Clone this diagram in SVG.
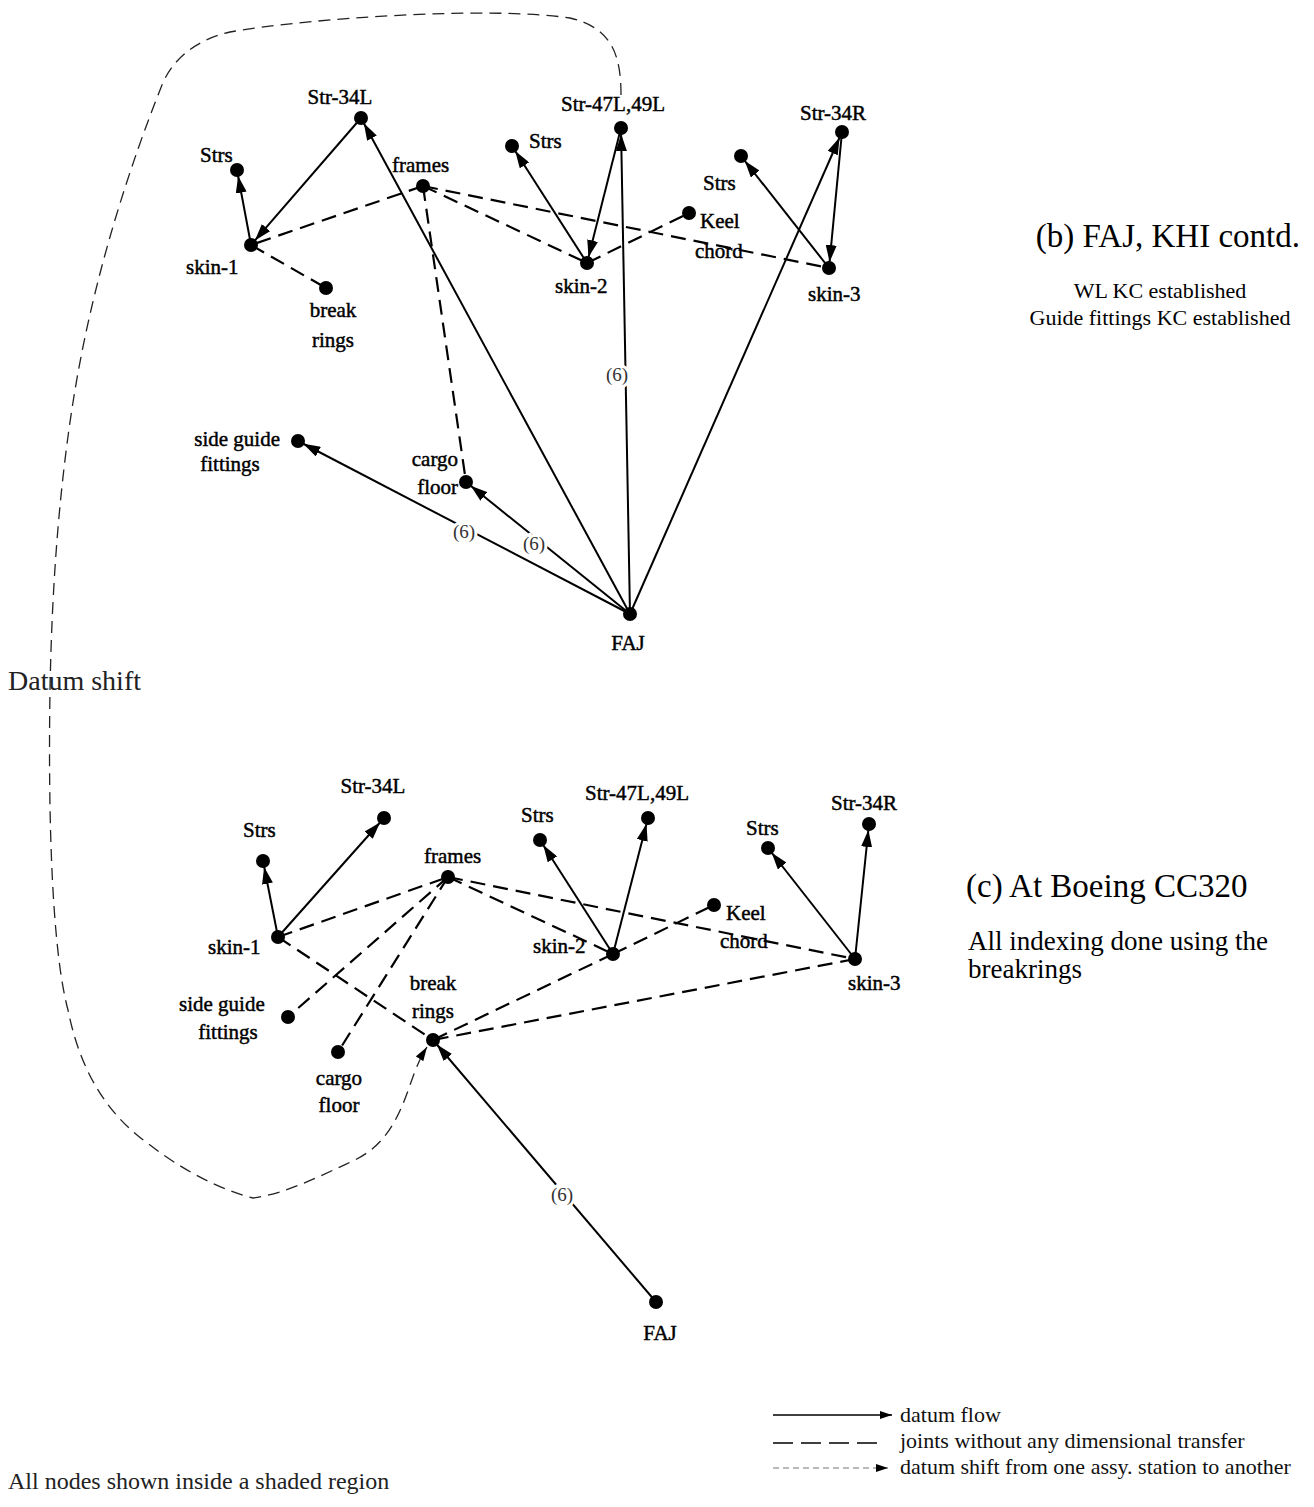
<svg xmlns="http://www.w3.org/2000/svg" width="1314" height="1507" viewBox="0 0 1314 1507">
<defs>
<style>
text{font-family:"Liberation Serif","Times New Roman",serif;fill:#000}
.lb{font-size:21px;stroke:#000;stroke-width:0.45px}
.six{font-size:19px;fill:#333;paint-order:stroke;stroke:#fff;stroke-width:6px}
.sa{stroke:#000;stroke-width:2;fill:none;marker-end:url(#ah)}
.dsh{stroke:#000;stroke-width:2.2;fill:none;stroke-dasharray:15 8}
.shift{stroke:#222;stroke-width:1.3;fill:none;stroke-dasharray:12 7}
.nd{fill:#000}
.ttl{font-size:33px}
.sub{font-size:22px}
.sub2{font-size:27px}
.leg{font-size:22px;fill:#111}
</style>
<marker id="ah" viewBox="0 0 17 11" refX="23" refY="5.5" markerWidth="17" markerHeight="11" markerUnits="userSpaceOnUse" orient="auto"><path d="M0,0 L17,5.5 L0,11 z" fill="#000"/></marker>
<marker id="ahs" viewBox="0 0 14 9" refX="14" refY="4.5" markerWidth="14" markerHeight="9" markerUnits="userSpaceOnUse" orient="auto"><path d="M0,0 L14,4.5 L0,9 z" fill="#000"/></marker>
<marker id="ahl" viewBox="0 0 12 8" refX="12" refY="4" markerWidth="12" markerHeight="8" markerUnits="userSpaceOnUse" orient="auto"><path d="M0,0 L12,4 L0,8 z" fill="#000"/></marker>
</defs>
<rect width="1314" height="1507" fill="#fff"/>

<g id="connectors">
<path class="shift" marker-end="url(#ahs)" d="M621,95 C621,55 612,28 570,18 C490,6 310,18 230,32 C195,40 172,60 162,85 C132,160 95,270 75,390 C60,480 52,580 50,690 C48,820 52,950 68,1010 C78,1060 100,1110 150,1145 C180,1168 215,1188 253,1198 C285,1194 320,1176 355,1160 C385,1145 398,1120 410,1085 C416,1068 420,1058 427,1047"/>

<line class="sa" x1="251" y1="245" x2="237" y2="170"/>
<line class="sa" x1="361" y1="118" x2="251" y2="245"/>
<line class="sa" x1="630" y1="614" x2="361" y2="118"/>
<line class="dsh" x1="423" y1="186" x2="251" y2="245"/>
<line class="dsh" x1="423" y1="186" x2="587" y2="263"/>
<line class="dsh" x1="423" y1="186" x2="829" y2="268"/>
<line class="dsh" x1="423" y1="186" x2="466" y2="482"/>
<line class="dsh" x1="251" y1="245" x2="326" y2="288"/>
<line class="sa" x1="587" y1="263" x2="512" y2="146"/>
<line class="sa" x1="621" y1="128" x2="587" y2="263"/>
<line class="sa" x1="630" y1="614" x2="621" y2="128"/>
<line class="dsh" x1="587" y1="263" x2="689" y2="213"/>
<line class="sa" x1="630" y1="614" x2="842" y2="132"/>
<line class="sa" x1="842" y1="132" x2="829" y2="268"/>
<line class="sa" x1="829" y1="268" x2="741" y2="156"/>
<line class="sa" x1="630" y1="614" x2="298" y2="441"/>
<line class="sa" x1="630" y1="614" x2="466" y2="482"/>

<line class="sa" x1="278" y1="937" x2="263" y2="861"/>
<line class="sa" x1="278" y1="937" x2="384" y2="818"/>
<line class="dsh" x1="278" y1="937" x2="448" y2="877"/>
<line class="dsh" x1="278" y1="937" x2="433" y2="1040"/>
<line class="dsh" x1="448" y1="877" x2="288" y2="1017"/>
<line class="dsh" x1="448" y1="877" x2="338" y2="1052"/>
<line class="dsh" x1="448" y1="877" x2="613" y2="954"/>
<line class="dsh" x1="448" y1="877" x2="855" y2="959"/>
<line class="sa" x1="613" y1="954" x2="540" y2="840"/>
<line class="sa" x1="613" y1="954" x2="648" y2="818"/>
<line class="dsh" x1="613" y1="954" x2="714" y2="905"/>
<line class="dsh" x1="613" y1="954" x2="433" y2="1040"/>
<line class="dsh" x1="855" y1="959" x2="433" y2="1040"/>
<line class="sa" x1="855" y1="959" x2="768" y2="848"/>
<line class="sa" x1="855" y1="959" x2="869" y2="824"/>
<line class="sa" x1="656" y1="1302" x2="433" y2="1040"/>
</g>

<g id="labels-six">
<text class="six" x="617" y="381" text-anchor="middle">(6)</text>
<text class="six" x="464" y="538" text-anchor="middle">(6)</text>
<text class="six" x="534" y="550" text-anchor="middle">(6)</text>
<text class="six" x="562" y="1201" text-anchor="middle">(6)</text>
</g>

<g id="b-str34L"><circle class="nd" cx="361" cy="118" r="7"/><text class="lb" x="340" y="104" text-anchor="middle">Str-34L</text></g>
<g id="b-strsL"><circle class="nd" cx="237" cy="170" r="7"/><text class="lb" x="200" y="162">Strs</text></g>
<g id="b-frames"><circle class="nd" cx="423" cy="186" r="7"/><text class="lb" x="392" y="172">frames</text></g>
<g id="b-skin1"><circle class="nd" cx="251" cy="245" r="7"/><text class="lb" x="186" y="274">skin-1</text></g>
<g id="b-break"><circle class="nd" cx="326" cy="288" r="7"/><text class="lb" x="333" y="317" text-anchor="middle">break</text><text class="lb" x="333" y="347" text-anchor="middle">rings</text></g>
<g id="b-strsM"><circle class="nd" cx="512" cy="146" r="7"/><text class="lb" x="529" y="148">Strs</text></g>
<g id="b-str47"><circle class="nd" cx="621" cy="128" r="7"/><text class="lb" x="561" y="111">Str-47L,49L</text></g>
<g id="b-str34R"><circle class="nd" cx="842" cy="132" r="7"/><text class="lb" x="800" y="120">Str-34R</text></g>
<g id="b-strsR"><circle class="nd" cx="741" cy="156" r="7"/><text class="lb" x="703" y="190">Strs</text></g>
<g id="b-keel"><circle class="nd" cx="689" cy="213" r="7"/><text class="lb" x="700" y="228">Keel</text><text class="lb" x="695" y="258">chord</text></g>
<g id="b-skin2"><circle class="nd" cx="587" cy="263" r="7"/><text class="lb" x="555" y="293">skin-2</text></g>
<g id="b-skin3"><circle class="nd" cx="829" cy="268" r="7"/><text class="lb" x="808" y="301">skin-3</text></g>
<g id="b-side"><circle class="nd" cx="298" cy="441" r="7"/><text class="lb" x="280" y="446" text-anchor="end">side guide</text><text class="lb" x="230" y="471" text-anchor="middle">fittings</text></g>
<g id="b-cargo"><circle class="nd" cx="466" cy="482" r="7"/><text class="lb" x="458" y="466" text-anchor="end">cargo</text><text class="lb" x="458" y="494" text-anchor="end">floor</text></g>
<g id="b-faj"><circle class="nd" cx="630" cy="614" r="7"/><text class="lb" x="628" y="650" text-anchor="middle">FAJ</text></g>

<g id="c-str34L"><circle class="nd" cx="384" cy="818" r="7"/><text class="lb" x="373" y="793" text-anchor="middle">Str-34L</text></g>
<g id="c-strsL"><circle class="nd" cx="263" cy="861" r="7"/><text class="lb" x="243" y="837">Strs</text></g>
<g id="c-frames"><circle class="nd" cx="448" cy="877" r="7"/><text class="lb" x="424" y="863">frames</text></g>
<g id="c-skin1"><circle class="nd" cx="278" cy="937" r="7"/><text class="lb" x="208" y="954">skin-1</text></g>
<g id="c-side"><circle class="nd" cx="288" cy="1017" r="7"/><text class="lb" x="179" y="1011">side guide</text><text class="lb" x="228" y="1039" text-anchor="middle">fittings</text></g>
<g id="c-cargo"><circle class="nd" cx="338" cy="1052" r="7"/><text class="lb" x="339" y="1085" text-anchor="middle">cargo</text><text class="lb" x="339" y="1112" text-anchor="middle">floor</text></g>
<g id="c-break"><circle class="nd" cx="433" cy="1040" r="7"/><text class="lb" x="433" y="990" text-anchor="middle">break</text><text class="lb" x="433" y="1018" text-anchor="middle">rings</text></g>
<g id="c-strsM"><circle class="nd" cx="540" cy="840" r="7"/><text class="lb" x="521" y="822">Strs</text></g>
<g id="c-str47"><circle class="nd" cx="648" cy="818" r="7"/><text class="lb" x="585" y="800">Str-47L,49L</text></g>
<g id="c-skin2"><circle class="nd" cx="613" cy="954" r="7"/><text class="lb" x="533" y="953">skin-2</text></g>
<g id="c-keel"><circle class="nd" cx="714" cy="905" r="7"/><text class="lb" x="726" y="920">Keel</text><text class="lb" x="720" y="948">chord</text></g>
<g id="c-strsR"><circle class="nd" cx="768" cy="848" r="7"/><text class="lb" x="746" y="835">Strs</text></g>
<g id="c-str34R"><circle class="nd" cx="869" cy="824" r="7"/><text class="lb" x="831" y="810">Str-34R</text></g>
<g id="c-skin3"><circle class="nd" cx="855" cy="959" r="7"/><text class="lb" x="848" y="990">skin-3</text></g>
<g id="c-faj"><circle class="nd" cx="656" cy="1302" r="7"/><text class="lb" x="660" y="1340" text-anchor="middle">FAJ</text></g>

<g id="captions">
<text class="ttl" x="1300" y="247" text-anchor="end">(b) FAJ, KHI contd.</text>
<text class="sub" x="1160" y="298" text-anchor="middle">WL KC established</text>
<text class="sub" x="1160" y="325" text-anchor="middle">Guide fittings KC established</text>
<text class="ttl" x="966" y="897">(c) At Boeing CC320</text>
<text class="sub2" x="968" y="950">All indexing done using the</text>
<text class="sub2" x="968" y="978">breakrings</text>
<text x="8" y="690" style="font-size:28px;fill:#222">Datum shift</text>
<text x="8" y="1489" style="font-size:24px;fill:#222">All nodes shown inside a shaded region</text>
</g>

<g id="legend">
<line x1="773" y1="1415" x2="892" y2="1415" stroke="#000" stroke-width="1.3" marker-end="url(#ahl)"/>
<text class="leg" x="900" y="1422">datum flow</text>
<line x1="773" y1="1443" x2="880" y2="1443" stroke="#000" stroke-width="1.5" stroke-dasharray="20 8"/>
<text class="leg" x="900" y="1448">joints without any dimensional transfer</text>
<line x1="773" y1="1468" x2="888" y2="1468" stroke="#777" stroke-width="1.2" stroke-dasharray="6 4" marker-end="url(#ahl)"/>
<text class="leg" x="900" y="1474">datum shift from one assy. station to another</text>
</g>
</svg>
